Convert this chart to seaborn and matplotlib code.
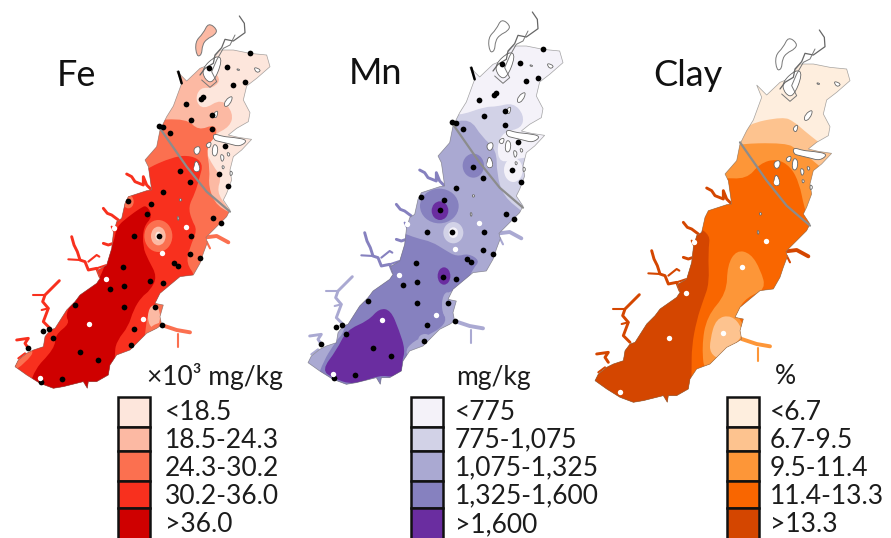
import matplotlib
matplotlib.use('Agg')
import numpy as np
import pandas as pd
import seaborn as sns
import matplotlib.pyplot as plt
from matplotlib.patches import Ellipse, PathPatch, Polygon, Rectangle
from matplotlib.path import Path

sns.set_theme(style='white')
plt.rcParams['font.family'] = ['Lato', 'DejaVu Sans']

OUTLINE = [(660,150),(700,150),(750,160),(800,165),(810,200),(770,235),(740,258),(730,300),(750,338),(745,365),
    (710,385),(685,405),(715,412),(755,418),(725,450),(700,470),(690,510),(695,540),(680,580),(670,600),(690,630),
    (680,650),(660,670),(640,690),(618,712),(622,728),(610,760),
    (600,790),(580,825),(540,830),(510,855),(480,880),(465,910),(490,915),(480,950),(485,975),
    (470,985),(440,1000),(410,1030),(390,1050),(350,1065),
    (330,1095),(325,1125),(290,1145),(265,1145),(262,1165),(250,1145),(190,1160),(160,1165),(120,1150),(80,1125),
    (45,1100),(55,1080),(80,1060),(100,1050),(130,1040),(135,1010),(150,990),(165,985),(200,930),(225,905),(240,885),
    (290,850),(300,835),(292,812),(320,795),(335,745),(340,700),(350,665),(365,655),(375,610),(385,590),(440,572),
    (455,570),(445,500),(435,480),(470,440),(480,390),(500,350),(520,318),(545,250),(530,213),(560,243),
    (600,205),(625,195),(640,175)]
TRIBUTARIES = [
    [(455,570),(440,555),(430,530),(430,555),(405,545),(395,530),(380,522)],
    [(355,660),(335,645),(322,640),(310,625)],
    [(300,830),(290,805),(265,810),(255,785),(240,780),(232,755),(222,735),(215,710)],
    [(340,730),(325,735),(310,730)],
    [(150,985),(130,965),(145,925),(128,905),(135,885),(160,860),(178,842)],
    [(85,1045),(75,1030),(85,1015),(50,1020)],
    [(618,712),(650,708),(685,727)],
    [(485,975),(530,990),(570,997)],
]
TRIBUTARY_BRANCHES = [
    (2, [(240,780),(205,778)]),
    (2, [(265,785),(290,765),(298,770)]),
    (2, [(290,805),(320,795)]),
    (3, [(345,700),(335,680)]),
    (4, [(135,885),(100,885)]),
    (4, [(125,930),(145,925)]),
    (5, [(75,1060),(55,1075)]),
    (6, [(620,725),(630,745)]),
    (7, [(535,1003),(535,1040)]),
]
NORTH_ARM = [(590,170),(585,125),(610,100),(625,68),(652,88),(645,105),(620,117),(607,135),(605,165)]
NORTH_TIP = [(718,48),(733,70),(735,98),(700,123),(675,118),(665,143),(645,165),(640,190),(615,205),(600,225)]
NORTH_TIP_2 = [(705,105),(690,135),(670,145),(650,180),(635,215),(650,245),(630,262),(605,240)]
ISLANDS = [
    [(640,400),(670,410),(700,412),(745,420),(720,440),(690,432),(660,425),(640,420)],
    [(620,430),(635,425),(630,445),(618,440)],
    [(640,430),(655,440),(650,470),(635,465)],
    [(580,445),(600,437),(600,460),(585,465)],
    [(585,480),(597,490),(600,515),(580,515)],
    [(675,300),(700,285),(690,315),(672,322)],
    [(640,340),(655,330),(650,355),(640,350)],
    [(605,205),(650,165),(668,180),(640,250),(615,240)],
    [(530,650),(538,650),(535,665)],
    [(537,595),(547,598),(540,606)],
    [(690,510),(700,520),(690,530)],
    [(760,200),(785,210),(770,220)],
    [(710,205),(722,210),(712,212)],
    [(660,460),(675,470),(665,490)],
    [(665,495),(675,500),(668,510)],
    [(680,455),(692,462),(684,472)],
]
BRIDGE = [(480,385),(560,500),(620,575),(690,635)]
NW_MARK = [(535,215),(545,250)]

BLACK_X = [750,628,680,735,698,610,603,558,637,573,478,490,636,511,676,658,541,570,685,490,383,452,440,638,663,
           573,478,401,571,599,521,535,370,450,490,372,329,224,372,465,487,401,148,130,158,392,84,241,295,186,124]
BLACK_Y = [160,204,202,246,255,290,298,313,345,360,378,380,386,399,437,521,514,545,558,575,603,613,642,655,668,
           709,709,709,762,775,790,798,800,843,850,857,867,916,922,920,975,987,988,994,1013,1034,1044,1055,1080,1138,1146]
WHITE_X = [587,557,342,485,317,428,268,120]
WHITE_Y = [505,680,685,758,837,958,972,1135]

# zones are (class, vertices) in each panel's own zoom coordinates
FE_ZONES = [
    (1, [(520,190),(620,200),(665,235),(640,265),(600,262),(585,300),(610,330),(665,295),(700,340),(690,380),(640,405),
         (615,450),(640,500),(665,530),(650,575),(680,620),(740,700),(700,1300),(-50,1300),(-50,500),(470,300)]),
    (2, [(440,362),(560,355),(595,392),(645,372),(652,405),(618,440),(630,510),(625,560),(650,620),(720,650),(720,760),
         (620,900),(480,1300),(-50,1300),(-50,500)]),
    (3, [(430,510),(520,470),(575,466),(610,490),(598,535),(585,580),(565,620),(575,660),(592,690),(570,740),(558,790),
         (590,832),(540,848),(490,900),(445,925),(435,1000),(400,1300),(-50,1300),(-50,700),(300,600)]),
    (4, [(440,615),(458,650),(430,680),(428,740),(445,780),(472,830),(450,872),(425,890),(400,930),(385,980),(352,1020),
         (342,1060),(350,1300),(60,1300),(90,1122),(165,1045),(165,1005),(210,970),(195,945),(225,890),(290,850),(310,810),
         (342,725),(350,680),(385,650),(420,625)]),
    (2, [(20,1050),(110,1045),(75,1090),(30,1120)]),
]
FE_BLOBS = [(2,475,708,42,48),(1,475,708,22,28),(0,475,708,9,13),(2,385,605,16,20),(1,462,950,18,34),(2,510,990,60,25)]

MN_ZONES = [
    (1, [(485,345),(555,320),(590,320),(640,308),(672,345),(665,385),(610,395),(590,440),(600,490),(650,475),(720,470),
         (720,700),(700,1300),(-50,1300),(-50,500),(460,340)]),
    (2, [(440,372),(510,355),(545,410),(590,450),(590,520),(610,590),(675,640),(720,700),(620,850),(480,1300),(-50,1300),(-50,500)]),
    (3, [(180,695),(300,695),(350,715),(395,725),(435,750),(470,770),(505,760),(540,782),(520,805),(505,838),(480,868),
         (430,880),(425,930),(442,965),(400,1000),(340,1022),(310,1060),(360,1110),(300,1300),(0,1300),(60,1100),(110,1020),
         (130,1000),(150,930)]),
    (4, [(140,990),(205,962),(238,925),(272,930),(297,990),(316,1050),(305,1088),(312,1112),(280,1132),(240,1125),
         (160,1155),(100,1135),(65,1110),(110,1050)]),
]
MN_BLOBS = [(0,640,510,28,36),(1,460,698,30,32),(0,460,698,14,16),(3,418,618,58,52),(4,420,632,25,28),(3,520,497,32,36),
            (4,432,828,19,26),(2,442,915,16,38),(2,375,1018,20,16),(2,565,748,22,22)]

CLAY_ZONES = [
    (1, [(470,372),(580,350),(612,365),(640,390),(690,430),(735,462),(780,520),(800,800),(700,1400),(-50,1400),(-50,500),(440,420)]),
    (2, [(420,432),(590,428),(622,450),(680,488),(705,520),(720,800),(640,1400),(-50,1400),(-50,500)]),
    (3, [(390,532),(470,538),(510,490),(560,476),(602,500),(628,550),(642,620),(665,695),(720,800),(600,1400),(-50,1400),(-50,600)]),
    (2, [(412,795),(440,750),(482,760),(512,810),(528,868),(470,892),(440,935),(452,965),(490,1018),(560,1040),(560,1200),
         (345,1130),(335,1040),(350,950),(410,880)]),
    (1, [(360,1020),(378,955),(425,945),(458,985),(450,1022),(410,1045),(392,1080),(360,1060)]),
    (4, [(362,688),(354,760),(358,850),(340,900),(320,960),(305,1040),(305,1108),(300,1400),(-50,1400),(-50,1000),(200,650)]),
]
CLAY_BLOBS = []

FE_TRIB_LEVELS = [3, 3, 3, 3, 3, 3, 2, 2]
MN_TRIB_LEVELS = [3, 3, 3, 3, 2, 2, 2, 2]
CLAY_TRIB_LEVELS = [4, 4, 4, 4, 4, 4, 4, 2]

FE_LABELS = ['<18.5', '18.5-24.3', '24.3-30.2', '30.2-36.0', '>36.0']
MN_LABELS = ['<775', '775-1,075', '1,075-1,325', '1,325-1,600', '>1,600']
CLAY_LABELS = ['<6.7', '6.7-9.5', '9.5-11.4', '11.4-13.3', '>13.3']

FE_COLORS = ['#fde6dc', '#fcb9a3', '#fb7050', '#f8301e', '#cf0000']
MN_COLORS = ['#f4f2f9', '#d2d2e7', '#aaa9d2', '#8681bf', '#6a2da0']
CLAY_COLORS = ['#feeede', '#fdc38f', '#fd9638', '#f96600', '#d44600']

LEGEND_EDGES = [397, 427, 451, 481, 508, 539]
LEGEND_TEXT_Y = [412, 440, 468, 496, 525]


def smooth_path(points):
    # closed quadratic spline through the midpoints
    pts = np.array(points, dtype=float)
    mids = (pts + np.roll(pts, -1, axis=0)) / 2
    verts = [mids[-1]]
    codes = [Path.MOVETO]
    for p, m in zip(pts, mids):
        verts += [p, m]
        codes += [Path.CURVE3, Path.CURVE3]
    return Path(np.array(verts), codes)


def to_px(points, dx, dy):
    return [(x / 3 + dx, y / 3 + dy) for x, y in points]


fig = plt.figure(figsize=(8.91, 5.38), dpi=100)
ax = fig.add_axes([0, 0, 1, 1])
ax.set_xlim(0, 891)
ax.set_ylim(538, 0)
ax.set_autoscale_on(False)
ax.axis('off')


def draw_line(points, shift, **kwargs):
    line = np.array(to_px(points, *shift))
    ax.plot(line[:, 0], line[:, 1], solid_capstyle='round', **kwargs)


def draw_map(colors, zones, blobs, origin, shift, arm_color, trib_levels, show_black):
    dx, dy = shift
    outline = Polygon(to_px(OUTLINE, dx, dy), closed=True, fc=colors[0], ec='none', zorder=1)
    ax.add_patch(outline)
    for level, pts in zones:
        p = PathPatch(smooth_path(to_px(pts, origin, 0)), fc=colors[level], ec='none', zorder=2)
        ax.add_patch(p)
        p.set_clip_path(outline)
    for level, x, y, rx, ry in blobs:
        e = Ellipse((x / 3 + origin, y / 3), 2 * rx / 3, 2 * ry / 3, fc=colors[level], ec='none', zorder=3)
        ax.add_patch(e)
        e.set_clip_path(outline)
    for i, trib in enumerate(TRIBUTARIES):
        draw_line(trib, shift, color=colors[trib_levels[i]], lw=2.8 if i in (6, 7) else 2.1, zorder=1.5)
    for i, branch in TRIBUTARY_BRANCHES:
        draw_line(branch, shift, color=colors[trib_levels[i]], lw=1.5, zorder=1.5)
    ax.add_patch(Polygon(to_px(OUTLINE, dx, dy), closed=True, fc='none', ec='#6a6a6a', lw=0.5, alpha=0.6, zorder=4))
    arm = PathPatch(smooth_path(to_px(NORTH_ARM, dx, dy)), fc=arm_color, ec='#777777', lw=0.7, zorder=4)
    ax.add_patch(arm)
    for isl in ISLANDS:
        ax.add_patch(PathPatch(smooth_path(to_px(isl, dx, dy)), fc='white', ec='#666666', lw=0.6, zorder=4))
    draw_line(NORTH_TIP, shift, color='#666666', lw=0.9, zorder=4)
    draw_line(NORTH_TIP_2, shift, color='#777777', lw=0.7, zorder=4)
    draw_line(BRIDGE, shift, color='#8c8c8c', lw=1.6, zorder=5)
    if show_black:
        draw_line(NW_MARK, shift, color='black', lw=1.8, zorder=6)
        black = pd.DataFrame({'x': np.array(BLACK_X) / 3 + dx, 'y': np.array(BLACK_Y) / 3 + dy})
        sns.scatterplot(data=black, x='x', y='y', color='black', s=17, linewidth=0, ax=ax, legend=False, zorder=6)
    white = pd.DataFrame({'x': np.array(WHITE_X) / 3 + dx, 'y': np.array(WHITE_Y) / 3 + dy})
    sns.scatterplot(data=white, x='x', y='y', color='white', s=15, linewidth=0, ax=ax, legend=False, zorder=6)


def draw_legend(colors, labels, box_x, text_x):
    width = 32
    for i, (color, label) in enumerate(zip(colors, labels)):
        ax.add_patch(Rectangle((box_x, LEGEND_EDGES[i]), width, LEGEND_EDGES[i + 1] - LEGEND_EDGES[i],
                               fc=color, ec='#111111', lw=1.8, zorder=3))
        ax.text(text_x, LEGEND_TEXT_Y[i], label, fontsize=19, color='#1c1c1c', va='center', ha='left')


draw_map(FE_COLORS, FE_ZONES, FE_BLOBS, 0, (0, 0), FE_COLORS[1], FE_TRIB_LEVELS, True)
draw_map(MN_COLORS, MN_ZONES, MN_BLOBS, 300, (293, -4), 'white', MN_TRIB_LEVELS, True)
draw_map(CLAY_COLORS, CLAY_ZONES, CLAY_BLOBS, 590, (580, 14), 'white', CLAY_TRIB_LEVELS, False)

draw_legend(FE_COLORS, FE_LABELS, 117.5, 165)
draw_legend(MN_COLORS, MN_LABELS, 411, 455)
draw_legend(CLAY_COLORS, CLAY_LABELS, 727, 770)

ax.text(57, 76, 'Fe', fontsize=26, color='#111111', va='center', ha='left')
ax.text(349, 74, 'Mn', fontsize=26, color='#111111', va='center', ha='left')
ax.text(653, 75, 'Clay', fontsize=26, color='#111111', va='center', ha='left')
ax.text(147, 377, '×10³ mg/kg', fontsize=19, color='#1c1c1c', va='center', ha='left')
ax.text(456, 377, 'mg/kg', fontsize=19, color='#1c1c1c', va='center', ha='left')
ax.text(775, 377, '%', fontsize=19, color='#1c1c1c', va='center', ha='left')

fig.savefig('out.png', dpi=100)
